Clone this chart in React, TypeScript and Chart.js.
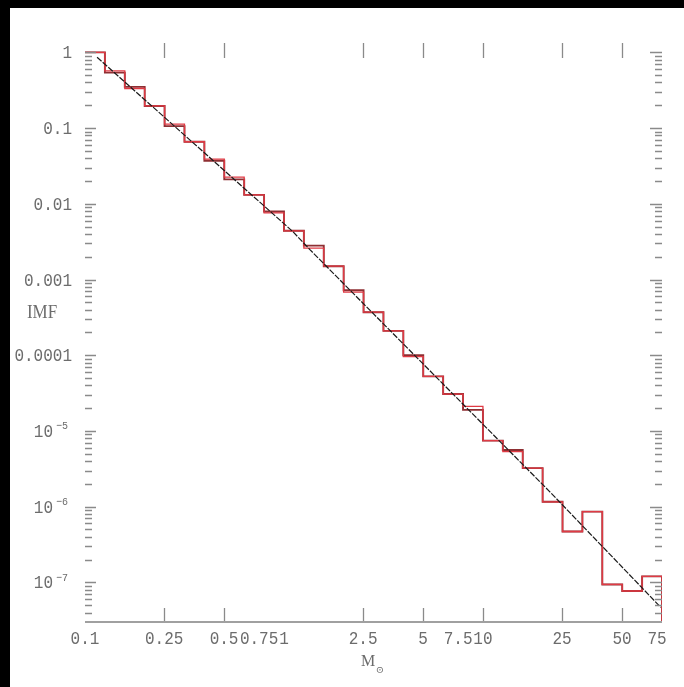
import React, { useEffect, useRef } from "react";
import { Chart, registerables } from "chart.js";

Chart.register(...registerables);

// Bin edges in solar masses (0.1 dex wide bins)
const binEdges = [
  0.1, 0.1259, 0.1585, 0.1995, 0.2512, 0.3162, 0.3981, 0.5012, 0.631, 0.7943,
  1, 1.259, 1.585, 1.995, 2.512, 3.162, 3.981, 5.012, 6.31, 7.943,
  10, 12.59, 15.85, 19.95, 25.12, 31.62, 39.81, 50.12, 63.1, 79.43,
];

// Red histogram (one value per bin)
const redHist = [
  1.0, 0.57, 0.333, 0.196, 0.113, 0.066, 0.039, 0.0225, 0.0131, 0.0076,
  0.0044, 0.0026, 0.0015, 0.00068, 0.00037, 0.00021, 0.000096, 0.0000525, 0.0000307, 0.0000211,
  0.00000745, 0.00000534, 0.00000323, 0.00000116, 4.7e-7, 8.6e-7, 9.4e-8, 7.7e-8, 1.2e-7,
];

// Dark red histogram (one value per bin)
const darkHist = [
  1.0, 0.54, 0.35, 0.196, 0.106, 0.066, 0.037, 0.021, 0.0131, 0.0079,
  0.0044, 0.0028, 0.0015, 0.00072, 0.00037, 0.00021, 0.0001, 0.0000525, 0.0000307, 0.000019,
  0.00000745, 0.0000056, 0.00000323, 0.00000116, 4.7e-7, 8.6e-7, 9.4e-8, 7.7e-8, 1.2e-7,
];

// Analytic IMF curve
const lineMass = [0.115, 1.11, 1.35, 21.7, 78.3];
const lineImf = [0.86, 0.00428, 0.00248, 1.57e-6, 4.69e-8];

// Axis ticks and labels
const xTickMarks = [0.25, 0.5, 2.5, 5, 10, 25, 50];
const xTickValues = [0.1, 0.25, 0.5, 0.75, 1, 2.5, 5, 7.5, 10, 25, 50, 75];
const xTickLabels = ["0.1", "0.25", "0.5", "0.75", "1", "2.5", "5", "7.5", "10", "25", "50", "75"];
const yTickValues = [1, 0.1, 0.01, 0.001, 0.0001, 1e-5, 1e-6, 1e-7];
const yTickLabels = ["1", "0.1", "0.01", "0.001", "0.0001", "10^-5", "10^-6", "10^-7"];
const yMinorMultipliers = [2, 3, 4, 5, 6, 7, 8, 9];
const yDecades = [1e-8, 1e-7, 1e-6, 1e-5, 1e-4, 1e-3, 1e-2, 1e-1, 1];

const X_MIN = 0.1;
const X_MAX = 79.43;
const Y_MIN = 3.26e-8;
const Y_MAX = 1.25;
const HIST_FLOOR = 1e-10;

const MONO = "'Liberation Mono', 'DejaVu Sans Mono', monospace";
const SERIF = "'Liberation Serif', 'DejaVu Serif', serif";
const TEXT_COLOR = "#6c6c6c";
const TICK_COLOR = "#8a8a8a";

function histPoints(vals: number[]) {
  const pts = vals.map((v, i) => ({ x: binEdges[i], y: v }));
  pts.push({ x: binEdges[vals.length], y: vals[vals.length - 1] });
  pts.push({ x: binEdges[vals.length], y: HIST_FLOOR });
  return pts;
}

function drawText(
  ctx: CanvasRenderingContext2D,
  text: string,
  x: number,
  y: number,
  align: CanvasTextAlign,
  size: number,
  family: string,
  sy = 1.18
) {
  ctx.save();
  ctx.translate(x, y);
  ctx.scale(1, sy);
  ctx.font = `${size}px ${family}`;
  ctx.textAlign = align;
  ctx.textBaseline = "middle";
  ctx.fillText(text, 0, 0);
  ctx.restore();
}

const framePlugin = {
  id: "frame",
  beforeDraw(chart: any) {
    const ctx: CanvasRenderingContext2D = chart.ctx;
    ctx.save();
    ctx.fillStyle = "#000";
    ctx.fillRect(0, 0, chart.width, chart.height);
    ctx.fillStyle = "#fff";
    ctx.fillRect(10, 8, chart.width - 10, chart.height - 8);
    ctx.restore();
  },
  afterDatasetsDraw(chart: any) {
    const ctx: CanvasRenderingContext2D = chart.ctx;
    const xs = chart.scales.x;
    const ys = chart.scales.y;
    const area = chart.chartArea;
    ctx.save();

    // y ticks, left and right
    ctx.strokeStyle = TICK_COLOR;
    ctx.lineWidth = 1.3;
    yDecades.forEach((d) => {
      [1, ...yMinorMultipliers].forEach((m) => {
        const v = d * m;
        if (v < Y_MIN || v > Y_MAX) return;
        const py = Math.round(ys.getPixelForValue(v)) + 0.5;
        const major = m === 1;
        ctx.beginPath();
        ctx.moveTo(area.left, py);
        ctx.lineTo(area.left + (major ? 11 : 7), py);
        ctx.moveTo(area.right, py);
        ctx.lineTo(area.right - (major ? 12 : 7), py);
        ctx.stroke();
      });
    });

    // x ticks, bottom and top
    xTickMarks.forEach((v) => {
      const px = Math.round(xs.getPixelForValue(v)) + 0.5;
      ctx.beginPath();
      ctx.moveTo(px, area.bottom);
      ctx.lineTo(px, area.bottom - 14);
      ctx.moveTo(px, area.top - 2);
      ctx.lineTo(px, area.top + 13);
      ctx.stroke();
    });

    // bottom axis line
    ctx.strokeStyle = "#a0a0a0";
    ctx.lineWidth = 2;
    ctx.beginPath();
    ctx.moveTo(area.left, area.bottom);
    ctx.lineTo(area.right, area.bottom);
    ctx.stroke();

    // tick labels
    ctx.fillStyle = TEXT_COLOR;
    xTickValues.forEach((v, i) => {
      const px = xs.getPixelForValue(v);
      drawText(ctx, xTickLabels[i], px, area.bottom + 17, "center", 16, MONO);
    });
    yTickValues.forEach((v, i) => {
      const py = ys.getPixelForValue(v) + 1;
      const lab = yTickLabels[i];
      if (lab.indexOf("^") >= 0) {
        const [base, exp] = lab.split("^");
        drawText(ctx, exp.replace("-", "\u2212"), 68, py - 6, "right", 10, MONO);
        drawText(ctx, base, 53, py, "right", 16, MONO);
      } else {
        drawText(ctx, lab, 72, py, "right", 16, MONO);
      }
    });

    // axis titles
    drawText(ctx, "IMF", 42, 313, "center", 17, SERIF, 1.05);
    drawText(ctx, "M", 368, 662, "center", 16, SERIF, 1.05);
    drawText(ctx, "\u2299", 380, 670, "center", 10, SERIF, 1.0);
    ctx.restore();
  },
};

export default function App() {
  const ref = useRef<HTMLCanvasElement>(null);
  useEffect(() => {
    const canvas = ref.current;
    if (!canvas) return;
    const chart = new Chart(canvas, {
      type: "line",
      data: {
        datasets: [
          {
            label: "IMF",
            data: lineMass.map((m, i) => ({ x: m, y: lineImf[i] })),
            borderColor: "#1a1a1a",
            borderWidth: 1.2,
            borderDash: [6, 1.5],
            pointRadius: 0,
            order: 0,
          },
          {
            label: "binned",
            data: histPoints(redHist),
            borderColor: "#e03a44",
            borderWidth: 1.3,
            stepped: "before",
            pointRadius: 0,
            order: 1,
          },
          {
            label: "sample",
            data: histPoints(darkHist),
            borderColor: "#8e2f33",
            borderWidth: 1.9,
            stepped: "before",
            pointRadius: 0,
            order: 2,
          },
        ],
      },
      options: {
        animation: false,
        responsive: false,
        maintainAspectRatio: false,
        parsing: false,
        normalized: true,
        layout: { padding: { left: 85, right: 22, top: 45, bottom: 65 } },
        scales: {
          x: { type: "logarithmic", min: X_MIN, max: X_MAX, display: false },
          y: { type: "logarithmic", min: Y_MIN, max: Y_MAX, display: false },
        },
        plugins: {
          legend: { display: false },
          tooltip: { enabled: false },
        },
        events: [],
      },
      plugins: [framePlugin],
    } as any);
    return () => chart.destroy();
  }, []);

  return (
    <div
      style={{
        position: "fixed",
        left: 0,
        top: 0,
        width: 684,
        height: 687,
        background: "#000",
      }}
    >
      <canvas
        ref={ref}
        width={684}
        height={687}
        style={{ display: "block", width: 684, height: 687 }}
      />
    </div>
  );
}
